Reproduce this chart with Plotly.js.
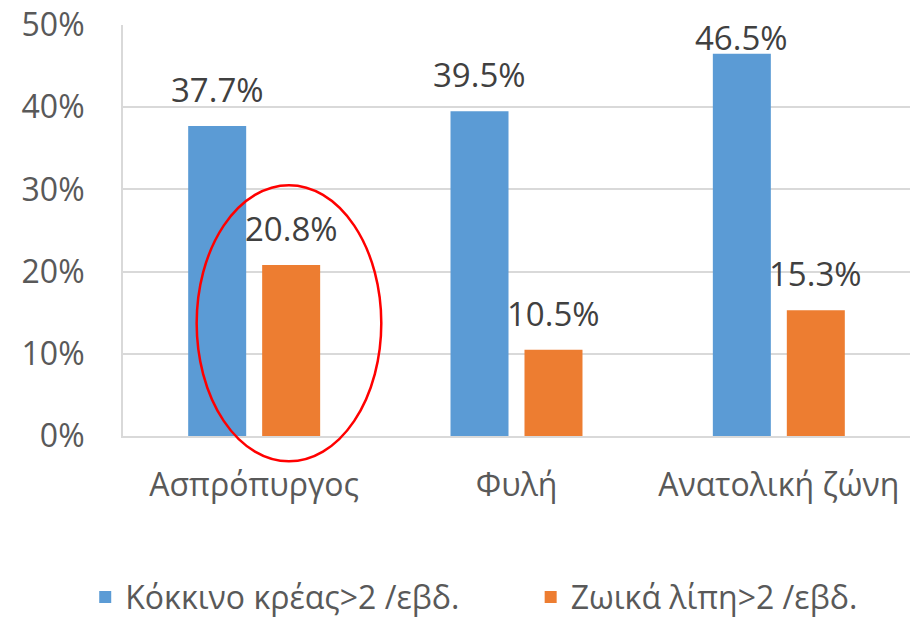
<!DOCTYPE html>
<html>
<head>
<meta charset="utf-8">
<script src="https://cdn.plot.ly/plotly-3.0.1.min.js"></script>
<style>html,body{margin:0;padding:0;background:#fff;}#chart{width:910px;height:621px;}</style>
</head>
<body>
<div id="chart"></div>
<script>
const categories = ["Ασπρόπυργος", "Φυλή", "Ανατολική ζώνη"];
const seriesNames = ["Κόκκινο κρέας>2 /εβδ.", "Ζωικά λίπη>2 /εβδ."];
const redMeat = [37.7, 39.5, 46.5];
const animalFat = [20.8, 10.5, 15.3];
const yTickVals = [0, 10, 20, 30, 40, 50];
const yTickText = ["0%", "10%", "20%", "30%", "40%", "50%"];

const FONT = "Open Sans, Noto Sans, sans-serif";
const colors = ["#5B9BD5", "#ED7D31"];
const yMax = 50;

const traces = [redMeat, animalFat].map((vals, i) => ({
  type: "bar",
  name: seriesNames[i],
  legend: i === 0 ? "legend" : "legend2",
  x: categories,
  y: vals,
  marker: {color: colors[i]},
  hoverinfo: "skip"
}));

// value labels above bars (clamped to the plot top like the original)
const annotations = [];
[redMeat, animalFat].forEach((vals, i) => {
  vals.forEach((v, j) => {
    annotations.push({
      x: categories[j], y: Math.min(v, yMax - 6), xref: "x", yref: "y",
      text: v.toFixed(1) + "%", showarrow: false,
      xanchor: "center", yanchor: "bottom",
      xshift: i === 0 ? -37 : 37, yshift: 12,
      font: {family: FONT, size: 33, color: "#404040"}
    });
  });
});

const legendBase = {
  orientation: "h", xanchor: "left", y: -0.392, yanchor: "middle",
  font: {family: FONT, size: 32, color: "#595959"},
  itemclick: false, bgcolor: "rgba(0,0,0,0)"
};

const layout = {
  width: 910, height: 621,
  margin: {l: 123, r: 0, t: 25, b: 185, autoexpand: false},
  paper_bgcolor: "#fff", plot_bgcolor: "#fff",
  font: {family: FONT, color: "#595959"},
  barmode: "group",
  bargap: 0.436,
  bargroupgap: 0.216,
  showlegend: true,
  legend: Object.assign({}, legendBase, {x: -0.048}),
  legend2: Object.assign({}, legendBase, {x: 0.518}),
  xaxis: {
    type: "category",
    tickfont: {family: FONT, size: 32, color: "#595959"},
    showgrid: false, zeroline: false,
    showline: true, linecolor: "#D9D9D9", linewidth: 2,
    ticks: "", ticklabelstandoff: 20
  },
  yaxis: {
    range: [0, yMax],
    tickvals: yTickVals, ticktext: yTickText,
    tickfont: {family: FONT, size: 32, color: "#595959"},
    showgrid: true, gridcolor: "#D9D9D9", gridwidth: 2,
    zeroline: false,
    showline: true, linecolor: "#D9D9D9", linewidth: 2,
    ticks: "", ticklabelstandoff: 30
  },
  annotations: annotations,
  shapes: [{
    type: "circle", xref: "paper", yref: "paper",
    x0: 0.0936, x1: 0.3282, y0: -0.0617, y1: 0.6104,
    line: {color: "#FF0000", width: 2.5}, fillcolor: "rgba(0,0,0,0)",
    layer: "above"
  }]
};

Plotly.newPlot("chart", traces, layout, {staticPlot: true, displayModeBar: false});
</script>
</body>
</html>
